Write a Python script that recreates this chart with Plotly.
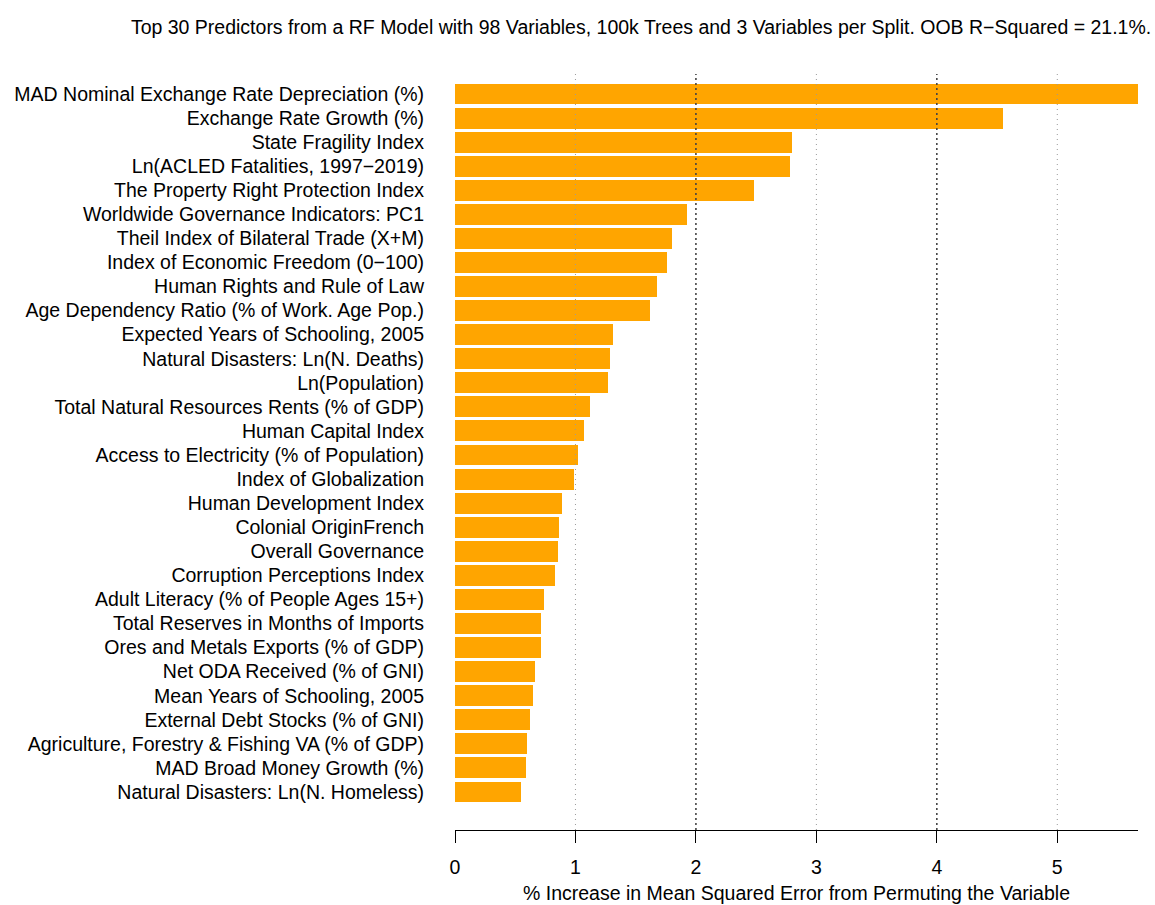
import plotly.graph_objects as go

# Variable importance (% increase in MSE), ordered from most to least important
predictors = [
    "MAD Nominal Exchange Rate Depreciation (%)",
    "Exchange Rate Growth (%)",
    "State Fragility Index",
    "Ln(ACLED Fatalities, 1997\u22122019)",
    "The Property Right Protection Index",
    "Worldwide Governance Indicators: PC1",
    "Theil Index of Bilateral Trade (X+M)",
    "Index of Economic Freedom (0\u2212100)",
    "Human Rights and Rule of Law",
    "Age Dependency Ratio (% of Work. Age Pop.)",
    "Expected Years of Schooling, 2005",
    "Natural Disasters: Ln(N. Deaths)",
    "Ln(Population)",
    "Total Natural Resources Rents (% of GDP)",
    "Human Capital Index",
    "Access to Electricity (% of Population)",
    "Index of Globalization",
    "Human Development Index",
    "Colonial OriginFrench",
    "Overall Governance",
    "Corruption Perceptions Index",
    "Adult Literacy (% of People Ages 15+)",
    "Total Reserves in Months of Imports",
    "Ores and Metals Exports (% of GDP)",
    "Net ODA Received (% of GNI)",
    "Mean Years of Schooling, 2005",
    "External Debt Stocks (% of GNI)",
    "Agriculture, Forestry & Fishing VA (% of GDP)",
    "MAD Broad Money Growth (%)",
    "Natural Disasters: Ln(N. Homeless)",
]
inc_mse = [
    5.67, 4.55, 2.80, 2.78, 2.48, 1.93, 1.80, 1.76, 1.68, 1.62,
    1.31, 1.29, 1.27, 1.12, 1.07, 1.02, 0.99, 0.89, 0.865, 0.855,
    0.83, 0.74, 0.71, 0.71, 0.66, 0.65, 0.625, 0.60, 0.59, 0.55,
]
x_ticks = [0, 1, 2, 3, 4, 5]

title_text = ("Top 30 Predictors from a RF Model with 98 Variables, 100k Trees and "
              "3 Variables per Split. OOB R\u2212Squared = 21.1%.")
x_title = "% Increase in Mean Squared Error from Permuting the Variable"

FONT = "Liberation Sans, Arial, Helvetica, sans-serif"
FS = 19.5

# plot bottom-to-top so the most important predictor sits on top
labels_bt = predictors[::-1]
values_bt = inc_mse[::-1]

fig = go.Figure(
    go.Bar(
        x=values_bt,
        y=labels_bt,
        orientation="h",
        marker=dict(color="#FFA500", line=dict(width=0)),
        width=0.87,
        hoverinfo="x+y",
    )
)

# dotted reference lines drawn on top of the bars
for v in x_ticks[1:]:
    dark = v % 2 == 0
    fig.add_shape(
        type="line", xref="x", yref="paper",
        x0=v, x1=v, y0=0, y1=1,
        layer="above",
        line=dict(color="#444444" if dark else "#9a9a9a",
                  width=1.6 if dark else 1,
                  dash="2px,3px" if dark else "1px,4px"),
    )

fig.add_annotation(
    text=x_title, xref="paper", yref="paper", x=0.5, y=0,
    xanchor="center", yanchor="top", yshift=-50, showarrow=False,
    font=dict(family=FONT, size=FS, color="black"),
)

fig.update_layout(
    width=1155, height=905,
    margin=dict(l=455, r=17, t=74, b=75, pad=0),
    paper_bgcolor="white", plot_bgcolor="white",
    showlegend=False,
    title=dict(text=title_text, xref="container", yref="container",
               x=0.555, y=0.970, xanchor="center", yanchor="middle",
               font=dict(family=FONT, size=FS, color="black")),
    font=dict(family=FONT, size=FS, color="black"),
    bargap=0,
)
fig.update_xaxes(
    range=[0, max(inc_mse)], tickvals=x_ticks, ticktext=[str(t) for t in x_ticks],
    showgrid=False, zeroline=False,
    showline=True, linecolor="black", linewidth=1,
    ticks="outside", ticklen=12, tickwidth=1, tickcolor="black",
    ticklabelstandoff=8,
    tickfont=dict(family=FONT, size=FS, color="black"),
)
fig.update_yaxes(
    type="category", categoryorder="array", categoryarray=labels_bt,
    range=[-1.58, 29.83],
    showgrid=False, zeroline=False, showline=False, ticks="",
    ticklabelstandoff=30,
    tickfont=dict(family=FONT, size=FS, color="black"),
)

fig.write_html("out.html")
